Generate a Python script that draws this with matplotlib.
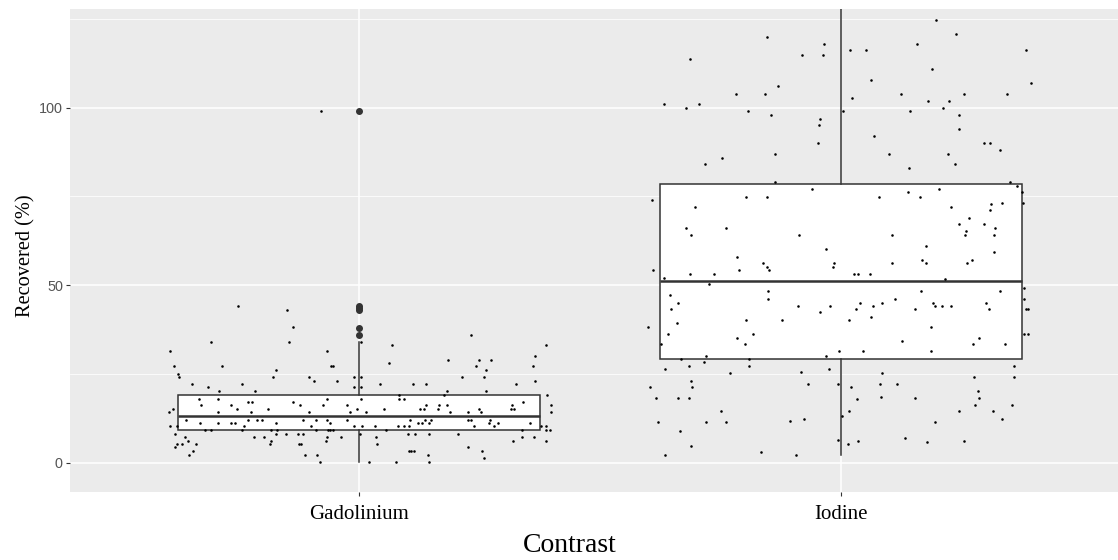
import matplotlib
matplotlib.use("Agg")
import matplotlib.pyplot as plt
from matplotlib.ticker import FixedLocator

# ---------------- data ----------------
categories = ["Gadolinium", "Iodine"]

# horizontal jitter offsets (category units) and recovered values (%)
gad_jitter = [-0.251, -0.150, -0.138, -0.146, -0.308, -0.392, -0.067, 0.387, 0.069, 0.233,
              -0.385, -0.284, -0.058, -0.054, -0.173, 0.062, 0.184, 0.249, 0.274, 0.242,
              0.366, 0.360, 0.263, -0.376, -0.373, -0.179, -0.103, -0.094, -0.046, -0.010,
              0.004, 0.214, 0.260, -0.346, -0.244, 0.044, 0.111, 0.138, 0.325, -0.313,
              -0.290, -0.217, -0.010, 0.004, 0.263, 0.366, 0.182, 0.389, 0.177, 0.083,
              0.083, 0.094, -0.332, -0.293, -0.230, -0.222, -0.067, 0.004, 0.341, -0.328,
              -0.265, -0.254, -0.189, -0.138, -0.122, -0.074, -0.025, -0.019, -0.005, 0.014,
              0.052, 0.126, 0.135, 0.138, 0.164, 0.166, 0.182, 0.189, 0.226, 0.249,
              0.253, 0.315, 0.318, 0.322, -0.394, -0.387, 0.399, 0.399, -0.293, -0.224,
              -0.103, -0.360, -0.230, -0.212, -0.201, -0.117, -0.090, -0.067, -0.025, 0.106,
              0.122, 0.131, 0.136, 0.145, 0.150, 0.226, 0.233, 0.272, 0.270, 0.288,
              0.355, -0.330, -0.293, -0.265, -0.258, -0.173, -0.060, -0.392, -0.378, -0.239,
              -0.099, -0.010, 0.007, 0.032, 0.080, 0.094, 0.104, 0.239, 0.281, 0.387,
              0.387, 0.396, 0.378, -0.320, -0.308, -0.242, -0.182, -0.170, -0.090, -0.064,
              -0.060, -0.055, 0.055, 0.339, -0.383, -0.362, -0.355, -0.378, -0.368, -0.383,
              -0.339, -0.344, -0.353, -0.219, -0.198, -0.173, -0.152, -0.127, -0.117, -0.182,
              -0.185, -0.124, -0.120, -0.113, -0.088, -0.081, -0.067, -0.069, -0.037, 0.002,
              0.035, 0.037, 0.101, 0.115, 0.145, 0.205, 0.320, 0.339, 0.364, 0.387,
              0.226, 0.256, 0.260, 0.104, 0.108, 0.113, 0.143, 0.145, 0.021, 0.076,
              -0.079, 0.004]
gad_values = [44.2, 43.1, 38.1, 34.1, 34.1, 31.3, 31.3, 33.2, 33.2, 36.0,
              27.1, 27.1, 27.1, 27.1, 26.2, 28.1, 29.0, 29.0, 29.0, 27.1,
              30.0, 27.1, 26.2, 25.0, 24.0, 24.0, 24.0, 23.1, 23.1, 24.0,
              24.0, 24.0, 24.0, 22.2, 22.2, 22.2, 22.2, 22.2, 22.2, 21.2,
              20.3, 20.3, 21.2, 21.2, 20.3, 23.1, 20.3, 19.0, 19.0, 19.0,
              18.0, 18.0, 18.0, 18.0, 17.1, 17.1, 18.0, 18.0, 17.1, 16.1,
              16.1, 15.2, 15.2, 17.1, 16.1, 16.1, 16.1, 14.3, 15.2, 14.3,
              15.2, 15.2, 15.2, 16.1, 15.2, 16.1, 16.1, 14.3, 14.3, 15.2,
              14.3, 15.2, 16.1, 15.2, 14.3, 15.2, 16.1, 14.3, 14.3, 14.3,
              14.3, 12.1, 12.1, 12.1, 12.1, 12.1, 12.1, 12.1, 12.1, 12.1,
              11.2, 11.2, 12.1, 11.2, 12.1, 12.1, 12.1, 12.1, 11.2, 11.2,
              11.2, 11.2, 11.2, 11.2, 11.2, 11.2, 11.2, 10.2, 10.2, 10.2,
              10.2, 10.2, 10.2, 10.2, 10.2, 10.2, 10.2, 10.2, 10.2, 10.2,
              9.3, 9.3, 10.2, 9.3, 9.3, 9.3, 9.3, 9.3, 9.3, 9.3,
              9.3, 9.3, 9.3, 9.3, 8.1, 7.1, 6.2, 5.2, 5.2, 4.3,
              5.2, 3.4, 2.1, 7.1, 7.1, 8.1, 8.1, 8.1, 8.1, 6.2,
              5.2, 5.2, 5.2, 2.1, 2.1, 0.2, 7.1, 6.2, 7.1, 8.1,
              7.1, 5.2, 8.1, 8.1, 8.1, 8.1, 6.2, 7.1, 7.1, 6.2,
              4.3, 3.4, 1.2, 3.4, 3.4, 3.4, 2.1, 0.2, 0.2, 0.2,
              99.0, 34.1]

iod_jitter = [0.197, 0.238, -0.154, -0.036, 0.157, -0.313, -0.080, -0.038, 0.019, 0.052,
              0.384, 0.190, 0.063, -0.131, 0.395, -0.218, -0.158, 0.125, 0.255, 0.345,
              -0.368, -0.322, -0.294, 0.024, 0.181, 0.224, 0.211, -0.193, 0.005, 0.144,
              -0.145, 0.245, -0.043, -0.045, 0.245, 0.068, -0.048, 0.296, 0.310, 0.331,
              -0.136, 0.100, 0.222, -0.246, -0.283, 0.236, 0.142, -0.136, 0.350, 0.365,
              0.375, -0.060, 0.139, 0.204, -0.392, -0.196, -0.154, 0.079, 0.164, 0.377,
              0.334, 0.312, 0.309, -0.303, 0.229, 0.266, -0.322, -0.239, 0.245, 0.296,
              0.260, 0.319, -0.311, -0.086, 0.105, 0.257, 0.317, 0.176, -0.031, 0.317,
              -0.216,
              -0.161, -0.153, -0.149, -0.017, -0.015, 0.107, 0.169, 0.176, 0.262, 0.273,
              -0.389, -0.212, -0.313, -0.264, 0.028, 0.035, 0.061, -0.368, 0.216,
              -0.274, 0.379, -0.355, -0.338, -0.352, -0.151, -0.151, 0.166, 0.330, 0.379,
              -0.089, -0.022, -0.043, 0.040, 0.031, 0.066, 0.086, 0.112, 0.153, 0.192,
              0.196, 0.210, 0.229, 0.301, 0.307, 0.384, 0.389, -0.400, -0.341, -0.196,
              -0.122, 0.017, 0.062, -0.359, -0.182, -0.216, 0.187, 0.287, 0.379, 0.389,
              -0.200, -0.373, 0.274, 0.340, 0.126, -0.004, 0.045, 0.187, -0.031, -0.332,
              -0.279, -0.191,
              -0.366, -0.315, -0.285, -0.191, -0.230, -0.082, -0.025, 0.086, 0.276, 0.359,
              0.359, -0.396, -0.312, -0.310, -0.069, -0.006, 0.021, 0.081, 0.116, -0.384,
              -0.338, -0.315, 0.033, 0.084, 0.153, 0.285, 0.287, 0.278, 0.356, -0.248,
              0.017, 0.245, 0.315, 0.003, -0.379, -0.281, -0.239, -0.105, -0.077, 0.195,
              0.334, -0.334, -0.311, -0.006, 0.014, 0.035, 0.133, 0.179, 0.255, -0.366,
              -0.165, -0.093]
iod_values = [124.8, 120.8, 119.8, 117.9, 117.9, 113.8, 114.8, 114.8, 116.1, 116.1,
              116.1, 111.0, 107.9, 106.0, 107.0, 103.8, 103.8, 103.8, 103.8, 103.8,
              101.0, 100.0, 101.0, 102.8, 101.9, 101.9, 100.0, 99.1, 99.1, 99.1,
              97.9, 97.9, 96.9, 95.0, 94.1, 91.9, 90.0, 90.0, 90.0, 88.1,
              86.9, 86.9, 86.9, 85.9, 84.1, 84.1, 83.1, 79.0, 79.0, 78.0,
              76.2, 77.1, 76.2, 77.1, 74.0, 74.9, 74.9, 74.9, 74.9, 73.1,
              73.1, 72.8, 71.2, 72.1, 72.1, 68.9, 66.1, 66.1, 67.1, 67.1,
              65.2, 66.1, 64.0, 64.0, 64.0, 64.0, 64.0, 61.1, 60.2, 59.3,
              57.9,
              56.2, 55.2, 54.2, 55.2, 56.2, 56.2, 57.1, 56.2, 56.2, 57.1,
              54.2, 54.2, 53.0, 53.0, 53.0, 53.0, 53.0, 52.0, 51.7,
              50.2, 49.2, 47.1, 45.1, 43.2, 48.3, 46.0, 48.3, 48.3, 46.0,
              44.1, 44.1, 42.3, 45.1, 43.2, 44.1, 45.1, 46.0, 43.2, 45.1,
              44.1, 44.1, 44.1, 45.1, 43.2, 43.2, 43.2, 38.2, 39.2, 40.1,
              40.1, 40.1, 41.0, 36.1, 36.1, 35.1, 38.2, 35.1, 36.1, 36.1,
              33.3, 33.3, 33.3, 33.3, 34.2, 31.4, 31.4, 31.4, 30.1, 29.1,
              30.1, 29.1,
              26.3, 27.2, 28.2, 27.2, 25.1, 25.6, 26.3, 25.1, 24.1, 27.2,
              24.1, 21.2, 23.1, 21.2, 22.2, 22.2, 21.2, 22.2, 22.2, 18.1,
              18.1, 18.1, 17.9, 18.4, 18.1, 20.3, 18.1, 16.3, 16.3, 14.4,
              14.4, 14.4, 14.4, 13.2, 11.3, 11.3, 11.3, 11.8, 12.2, 11.3,
              12.2, 9.0, 4.6, 6.5, 5.3, 6.2, 6.9, 5.9, 6.2, 2.2,
              3.1, 2.2]

# box-plot summary values
box_q1 = [9.1, 29.1]
box_median = [13.1, 51.1]
box_q3 = [19.0, 78.4]
whisker_low = [0.2, 2.2]
whisker_high = [34.1, 140.0]
outliers = [[99.0, 44.1, 43.6, 43.0, 38.0, 35.9], []]

y_major = [0, 50, 100]
y_minor = [25, 75, 125]

# ---------------- figure ----------------
SERIF = "Liberation Serif"
SANS = "Liberation Sans"
DARK = "#333333"

fig = plt.figure(figsize=(11.18, 5.6), dpi=100)
ax = fig.add_axes([70 / 1118, (560 - 491.7) / 560, 1060 / 1118, 482.4 / 560])
ax.set_facecolor("#EBEBEB")
for s in ax.spines.values():
    s.set_visible(False)

positions = [1, 2]
stats = []
for i, name in enumerate(categories):
    stats.append(dict(label=name, q1=box_q1[i], med=box_median[i], q3=box_q3[i],
                      whislo=whisker_low[i], whishi=whisker_high[i], fliers=outliers[i]))

ax.bxp(stats, positions=positions, widths=0.75, showcaps=False, patch_artist=True,
       boxprops=dict(facecolor="white", edgecolor=DARK, linewidth=1.1),
       whiskerprops=dict(color=DARK, linewidth=1.1),
       medianprops=dict(color=DARK, linewidth=1.8),
       flierprops=dict(marker="o", markerfacecolor=DARK, markeredgecolor=DARK,
                       markersize=4.0, linestyle="none"))

gad_x = [positions[0] + j for j in gad_jitter]
iod_x = [positions[1] + j for j in iod_jitter]
ax.scatter(gad_x, gad_values, s=3.4, color="black", linewidths=0, zorder=4)
ax.scatter(iod_x, iod_values, s=3.4, color="black", linewidths=0, zorder=4)

ax.set_xlim(0.4, 2.6)
ax.set_ylim(-8.2, 127.7)

ax.set_xticks(positions)
ax.set_xticklabels(categories)
ax.yaxis.set_major_locator(FixedLocator(y_major))
ax.yaxis.set_minor_locator(FixedLocator(y_minor))
ax.set_yticklabels([str(v) for v in y_major])

ax.set_axisbelow(True)
ax.grid(True, which="major", color="white", linewidth=1.1)
ax.grid(True, which="minor", axis="y", color="white", linewidth=0.55)

ax.tick_params(axis="both", which="major", length=2.75, width=0.8, color=DARK)
ax.tick_params(axis="y", which="minor", length=0)
ax.tick_params(axis="y", which="major", labelsize=10.4, labelcolor="#555555", pad=2.4)
ax.tick_params(axis="x", which="major", labelsize=15, labelcolor="black", pad=7.0)
for lbl in ax.get_yticklabels():
    lbl.set_fontfamily(SANS)
for lbl in ax.get_xticklabels():
    lbl.set_fontfamily(SERIF)

ax.set_xlabel("Contrast", fontsize=20, family=SERIF, color="black")
ax.xaxis.set_label_coords((570 - 70) / 1060, -(533.0 - 491.7) / 482.4)
ax.set_ylabel("Recovered (%)", fontsize=14.7, family=SERIF, color="black")
ax.yaxis.set_label_coords(-(70 - 35) / 1060, 1 - (256 - 9.3) / 482.4)

fig.savefig("out.png", dpi=100, facecolor="white")
